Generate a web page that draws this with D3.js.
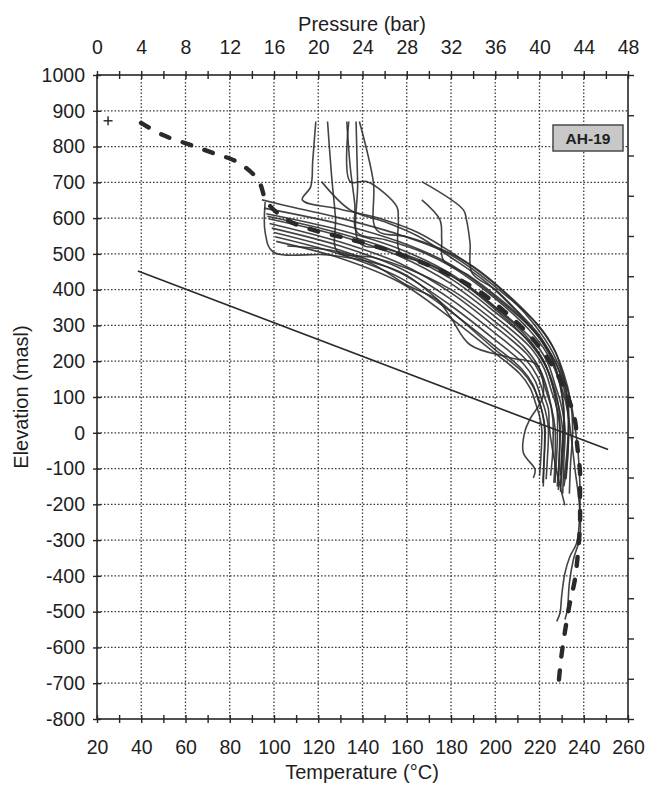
<!DOCTYPE html>
<html>
<head>
<meta charset="utf-8">
<script src="https://cdn.jsdelivr.net/npm/d3@7"></script>
<style>
  body { margin: 0; background: #fff; }
  text { font-family: "Liberation Sans", Arial, sans-serif; fill: #1e1e1e; }
</style>
</head>
<body>
<svg id="chart" width="647" height="786"></svg>
<script>
// ---- axis ticks ----
const tempTicks = d3.range(20, 261, 20);          // °C
const tempMinorTicks = d3.range(20, 261, 10);
const pressureTicks = d3.range(0, 49, 4);         // bar
const pressureMinorTicks = d3.range(0, 49, 2);
const elevTicks = d3.range(-800, 1001, 100);      // masl
const rightTicks = d3.range(0, 17);               // unlabelled right-hand scale
const wellName = "AH-19";

// ---- pressure data [bar, masl] ----
const wellheadPressure = [[1.0, 872]];
const pressureProfile = [[3.7, 452], [46.2, -47]];

// ---- estimated formation temperature [°C, masl] ----
const formationTemp = [
  [39.9, 866], [49.8, 832], [61.1, 807], [72.4, 782], [83.3, 757], [92.8, 707],
  [96.8, 645], [105.9, 595], [117.6, 567], [129.8, 548], [140.2, 531], [153.8, 506],
  [166, 478], [179.6, 441], [193.1, 394], [204.4, 338], [215.7, 271], [224.8, 198],
  [231.5, 120], [236, 36], [237, -33], [238.3, -109], [238.3, -179], [238.3, -257],
  [237.4, -335], [236, -410], [233.4, -486], [231.5, -556], [229.7, -634], [228.4, -718]
];

// ---- measured temperature logs [°C, masl] ----
// logs run from the wellhead
const log01 = [[118.9,870],[117.5,760],[116.6,688],[112.8,651],[130,625],[150,595],[165,560],[180,505],[195,440],[208,370],[218,300],[226,225],[231,150],[233,80],[233,0],[232,-80],[231,-130]];
const log02 = [[124.2,870],[126,720],[127.8,600],[128.6,507],[145,490],[160,460],[180,400],[200,310],[213,240],[220,180],[224,110],[226,40],[226,-50],[225,-120]];
const log03 = [[132.9,870],[134.5,740],[136.5,640],[137.6,560],[150,540],[165,510],[180,465],[200,375],[215,290],[224,215],[229,140],[231,70],[231,-20],[230,-110],[229.5,-165]];
const log04 = [[133.8,870],[134.4,702],[141.9,702],[155.5,632],[156.2,595],[157,503],[170,470],[185,420],[200,350],[214,270],[222,200],[226,130],[228,60],[228,-30],[227,-140]];
const log05 = [[137.1,870],[137.8,700],[138.6,531],[150,515],[165,485],[180,440],[200,345],[214,262],[222,195],[227,120],[229,50],[229,-50],[228,-150]];
const log06 = [[138.6,870],[144.9,702],[146.4,567],[160,548],[175,515],[190,465],[205,390],[218,310],[226,240],[231,165],[234,90],[235,10],[234,-90],[233.5,-170]];
// logs starting lower in the well
const log07 = [[166.8,702],[185.6,623],[187,595],[188.6,530],[189.5,447],[200,400],[210,340],[219,280],[226,210],[231,140],[233,60],[233,-30],[232,-110],[231,-150]];
const log08 = [[166.8,651],[175,595],[175.8,539],[176.5,483],[188,440],[200,385],[212,320],[221,255],[227,185],[230,110],[231,30],[230,-60],[229.5,-120]];
const log09 = [[121.5,702],[134.4,623],[150,590],[165,550],[180,490],[195,425],[208,350],[219,275],[227,200],[231,125],[233,50],[233,-40],[232,-130]];
const log10 = [[94.6,651],[110,628],[130,600],[157,553],[180,497],[200,408],[219.1,303],[227,229],[231.3,147],[233.8,96],[236,18],[237.5,-60],[238.3,-206],[236.8,-308],[233.8,-345],[231.5,-392],[230,-457],[229.3,-503],[227.8,-527]];
const log11 = [[95.5,628],[130,583],[157,533],[180,470],[200,380],[217.9,282],[225.3,213],[229.4,137],[231.7,90],[233.75,17],[236,-100],[238,-200],[238.3,-290],[235.3,-355],[233.5,-420],[232.6,-494],[231.5,-522]];
const log12 = [[96.5,612],[130,566],[157,513],[180,444],[200,352],[216.7,261],[223.6,197],[227.4,127],[229.6,83],[231.5,16],[231,-80],[230.5,-170]];
const log13 = [[97.5,598],[130,550],[157,493],[180,417],[200,324],[215.5,241],[221.9,182],[225.4,117],[227.5,77],[229.25,15],[229,-70],[228.5,-160]];
const log14 = [[98,585],[130,533],[157,473],[180,391],[200,296],[214.3,220],[220.3,166],[223.5,107],[225.4,70],[227,14],[227,-80],[226.5,-140]];
const log15 = [[99,572],[130,522],[157,460],[180,373],[200,278],[213.5,207],[219.1,157],[222.2,101],[224,67],[224.5,12],[227.5,-100],[231.5,-203]];
const log16 = [[100,560],[130,510],[157,447],[180,355],[200,259],[212.7,193],[218,146],[220.9,94],[222.6,62],[224,13],[223.5,-80],[223,-130]];
const log17 = [[100.5,548],[130,499],[157,433],[180,338],[200,241],[211.9,179],[216.9,136],[219.6,88],[221.2,59],[222.5,13],[222,-90],[221.7,-150]];
const log18 = [[96,645],[96,560],[99.5,506],[125,497],[145,475],[160,440],[180,340],[200,232],[212,172],[217,130],[219.8,90],[221.3,55],[222.3,10],[222,-80],[221.5,-140]];
const log19 = [[101,535],[130,488],[157,420],[180,320],[200,222],[211.1,165],[215.8,125],[218.3,81],[219.7,54],[221,12],[220.5,-80],[220,-120]];
const log20 = [[97,605],[130,557],[157,502],[180,430],[200,337],[216.1,250],[222.7,189],[226.4,121],[228.5,79],[230.3,15],[230,-90],[229.5,-150]];
const log21 = [[106,522],[130,505],[145,470],[160,413],[173.6,372],[179.6,325],[188.6,246],[206.7,210],[218.8,190],[221.6,103],[215.7,38],[213.4,4],[212.7,-56],[218,-103],[217.2,-126]];

const logs = [log01, log02, log03, log04, log05, log06, log07, log08, log09, log10, log11,
              log12, log13, log14, log15, log16, log17, log18, log19, log20, log21];

// ---- layout ----
const svg = d3.select("#chart");
const plot = { left: 97, right: 628, top: 75, bottom: 719 };

const x  = d3.scaleLinear().domain([20, 260]).range([plot.left, plot.right]);
const xp = d3.scaleLinear().domain([0, 48]).range([plot.left, plot.right]);
const y  = d3.scaleLinear().domain([-800, 1000]).range([plot.bottom, plot.top]);
const yr = d3.scaleLinear().domain([0, 16]).range([plot.top, plot.bottom]);

svg.append("defs").append("clipPath").attr("id", "plotClip")
  .append("rect")
  .attr("x", plot.left).attr("y", plot.top)
  .attr("width", plot.right - plot.left).attr("height", plot.bottom - plot.top);

// dotted grid
const grid = svg.append("g").attr("stroke", "#3c3c3c").attr("stroke-width", 1.3)
  .attr("stroke-dasharray", "1.6,1.9");
grid.selectAll("line.v").data(tempTicks.slice(1, -1)).join("line")
  .attr("x1", d => x(d)).attr("x2", d => x(d))
  .attr("y1", plot.top).attr("y2", plot.bottom);
grid.selectAll("line.h").data(elevTicks.slice(1, -1)).join("line")
  .attr("y1", d => y(d)).attr("y2", d => y(d))
  .attr("x1", plot.left).attr("x2", plot.right);

// well name box
const tag = svg.append("g");
tag.append("rect").attr("x", 553).attr("y", 125).attr("width", 70).attr("height", 26)
  .attr("fill", "#c8c8c8").attr("stroke", "#4a4a4a").attr("stroke-width", 1.5);
tag.append("text").attr("x", 588).attr("y", 144).attr("text-anchor", "middle")
  .attr("font-size", 15.5).attr("font-weight", "bold").text(wellName);

const data = svg.append("g").attr("clip-path", "url(#plotClip)");

// temperature logs
const tLine = d3.line().x(d => x(d[0])).y(d => y(d[1])).curve(d3.curveCatmullRom.alpha(0.5));
data.selectAll("path.log").data(logs).join("path")
  .attr("class", "log")
  .attr("d", tLine)
  .attr("fill", "none")
  .attr("stroke", "#2a2a2a")
  .attr("stroke-opacity", 0.88)
  .attr("stroke-width", 1.6)
  .attr("stroke-linejoin", "round");

// formation temperature (thick dashes)
data.append("path").datum(formationTemp)
  .attr("d", tLine)
  .attr("fill", "none")
  .attr("stroke", "#2a2a2a")
  .attr("stroke-width", 4.4)
  .attr("stroke-linecap", "round")
  .attr("stroke-dasharray", "9,14");

// pressure profile
const pLine = d3.line().x(d => xp(d[0])).y(d => y(d[1]));
data.append("path").datum(pressureProfile)
  .attr("d", pLine)
  .attr("fill", "none")
  .attr("stroke", "#2a2a2a")
  .attr("stroke-width", 1.6);

// wellhead pressure marker
const plus = data.selectAll("g.plus").data(wellheadPressure).join("g")
  .attr("transform", d => `translate(${xp(d[0])},${y(d[1])})`)
  .attr("stroke", "#222").attr("stroke-width", 1.4);
plus.append("line").attr("x1", -4.5).attr("x2", 4.5);
plus.append("line").attr("y1", -4.5).attr("y2", 4.5);

// frame
svg.append("rect")
  .attr("x", plot.left).attr("y", plot.top)
  .attr("width", plot.right - plot.left).attr("height", plot.bottom - plot.top)
  .attr("fill", "none").attr("stroke", "#262626").attr("stroke-width", 1.6);

// tick marks crossing the frame
function crossTicks(g, attrA, attrB, len) {
  g.selectAll(".tick line").attr(attrA, -len).attr(attrB, len)
    .attr("stroke", "#262626").attr("stroke-width", 1.4);
  g.select(".domain").remove();
}
svg.append("g").attr("transform", `translate(0,${plot.bottom})`)
  .call(d3.axisBottom(x).tickValues(tempMinorTicks).tickFormat(""))
  .call(g => crossTicks(g, "y1", "y2", 4));
svg.append("g").attr("transform", `translate(0,${plot.top})`)
  .call(d3.axisTop(xp).tickValues(pressureMinorTicks).tickFormat(""))
  .call(g => crossTicks(g, "y1", "y2", 4));
svg.append("g").attr("transform", `translate(${plot.left},0)`)
  .call(d3.axisLeft(y).tickValues(elevTicks).tickFormat(""))
  .call(g => crossTicks(g, "x1", "x2", 4));
svg.append("g").attr("transform", `translate(${plot.right},0)`)
  .call(d3.axisRight(yr).tickValues(rightTicks).tickFormat("").tickSize(6))
  .call(g => { g.select(".domain").remove(); g.selectAll(".tick line").attr("stroke", "#262626").attr("stroke-width", 1.4); });

// tick labels
const plain = d => String(d);
function labelStyle(g) {
  g.select(".domain").remove();
  g.selectAll(".tick line").remove();
  g.selectAll("text").attr("font-size", 19.5).attr("fill", "#1e1e1e")
    .attr("font-family", "'Liberation Sans', Arial, sans-serif");
}
svg.append("g").attr("transform", `translate(0,${plot.bottom})`)
  .call(d3.axisBottom(x).tickValues(tempTicks).tickFormat(plain).tickSize(0).tickPadding(21))
  .call(labelStyle);
svg.append("g").attr("transform", `translate(0,${plot.top})`)
  .call(d3.axisTop(xp).tickValues(pressureTicks).tickFormat(plain).tickSize(0).tickPadding(21))
  .call(labelStyle);
svg.append("g").attr("transform", `translate(${plot.left},0)`)
  .call(d3.axisLeft(y).tickValues(elevTicks).tickFormat(plain).tickSize(0).tickPadding(12))
  .call(labelStyle);

// axis titles
svg.append("text").attr("x", 362).attr("y", 31).attr("text-anchor", "middle")
  .attr("font-size", 20).text("Pressure (bar)");
svg.append("text").attr("x", 362).attr("y", 779).attr("text-anchor", "middle")
  .attr("font-size", 20).text("Temperature (°C)");
svg.append("text").attr("transform", "translate(28,397) rotate(-90)")
  .attr("text-anchor", "middle").attr("font-size", 20).text("Elevation (masl)");
</script>
</body>
</html>
